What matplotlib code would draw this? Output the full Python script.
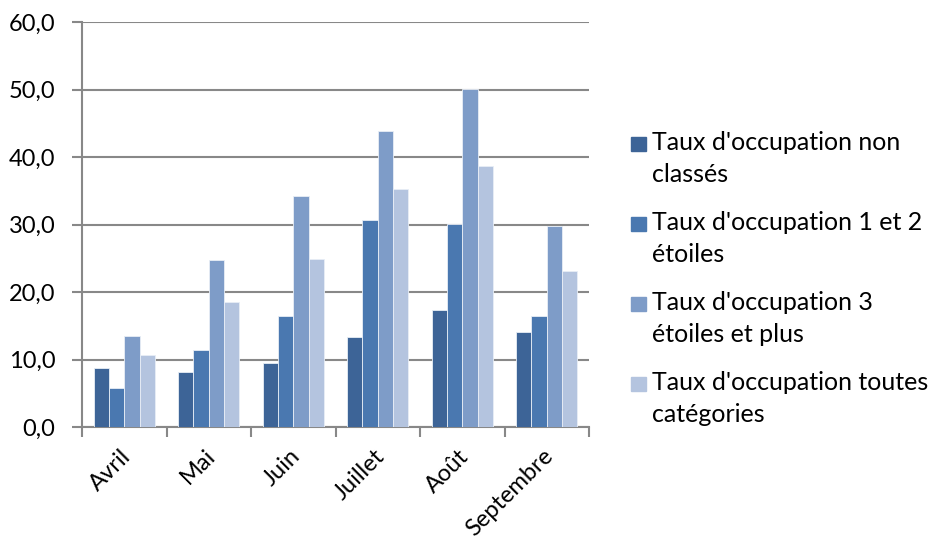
import numpy as np
import matplotlib.pyplot as plt
import matplotlib.transforms as mtransforms
from matplotlib.patches import Rectangle

plt.rcParams['font.family'] = ['Lato', 'DejaVu Sans']

months = ['Avril', 'Mai', 'Juin', 'Juillet', 'Août', 'Septembre']
series_names = ["Taux d'occupation non\nclassés",
                "Taux d'occupation 1 et 2\nétoiles",
                "Taux d'occupation 3\nétoiles et plus",
                "Taux d'occupation toutes\ncatégories"]
non_classes = [8.7, 8.1, 9.5, 13.3, 17.3, 14.1]
etoiles_1_2 = [5.8, 11.4, 16.4, 30.6, 30.1, 16.5]
etoiles_3_plus = [13.5, 24.7, 34.2, 43.9, 50.1, 29.8]
toutes_cat = [10.7, 18.5, 24.9, 35.3, 38.7, 23.1]
colors = ['#3D6497', '#4A78B0', '#7E9CC8', '#B4C4DF']

W, H = 930, 542
fig = plt.figure(figsize=(W / 100, H / 100), dpi=100)
ax = fig.add_axes([82 / W, 1 - 427 / H, 507 / W, 405 / H])

x = np.arange(len(months))
w = 1 / 5.5
all_series = [non_classes, etoiles_1_2, etoiles_3_plus, toutes_cat]
for i, vals in enumerate(all_series):
    ax.bar(x + (i - 1.5) * w, vals, w, color=colors[i], edgecolor='#E8EEF6',
           linewidth=0.6, zorder=3)

ax.set_ylim(0, 60)
ax.set_xlim(-0.5, len(months) - 0.5)
ax.set_yticks(np.arange(0, 61, 10))
ax.set_yticklabels([f'{v:.1f}'.replace('.', ',') for v in np.arange(0, 61, 10)])
ax.yaxis.grid(True, color='#888888', linewidth=1.5, zorder=0)
for s in ['top', 'right']:
    ax.spines[s].set_visible(False)
for s in ['left', 'bottom']:
    ax.spines[s].set_color('#888888')
    ax.spines[s].set_linewidth(1.5)
ax.tick_params(axis='y', length=7, width=1.5, color='#888888', labelsize=17, pad=12)

ax.set_xticks(x)
ax.set_xticklabels(months, rotation=45, ha='right', va='top', rotation_mode='anchor', fontsize=17)
ax.tick_params(axis='x', length=0, pad=9)
ax.set_xticks(np.arange(-0.5, len(months), 1), minor=True)
ax.tick_params(axis='x', which='minor', length=7, width=1.5, color='#888888')
offset = mtransforms.ScaledTranslation(-0.04, -0.06, fig.dpi_scale_trans)
for lbl in ax.get_xticklabels():
    lbl.set_transform(lbl.get_transform() + offset)

# legend, laid out by hand to get Excel-like spacing
for i, name in enumerate(series_names):
    yc = 144 + 80 * i
    fig.patches.append(Rectangle((631 / W, 1 - (yc + 7) / H), 15 / W, 14 / H,
                                 transform=fig.transFigure, color=colors[i]))
    fig.text(652 / W, 1 - (yc - 13) / H, name, fontsize=18, va='top', ha='left',
             linespacing=1.5)

fig.savefig('out.png', dpi=100)
